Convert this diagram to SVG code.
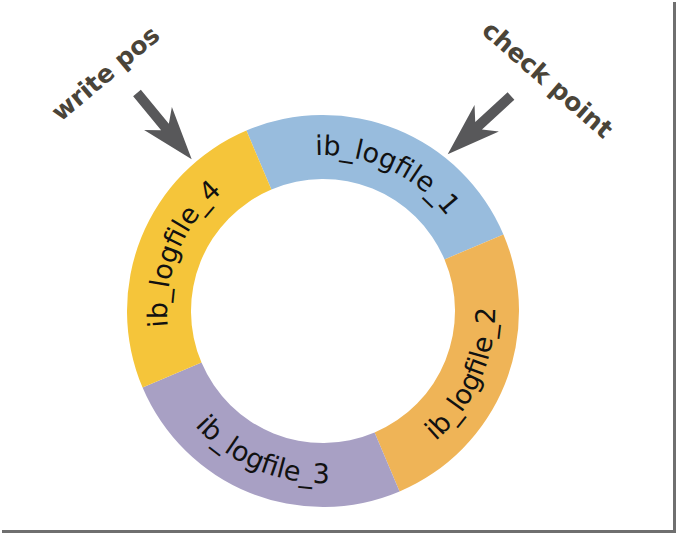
<svg xmlns="http://www.w3.org/2000/svg" width="678" height="535" viewBox="0 0 678 535">
  <defs>
    <style>
      .seg { stroke: none; }
      .lbl { font-family: "DejaVu Sans", "Liberation Sans", sans-serif; font-size: 27px; fill: #111111; }
      .note { font-family: "DejaVu Sans", "Liberation Sans", sans-serif; font-size: 25px; font-weight: bold; fill: #4a4438; }
      .arrow { fill: #58585a; }
    </style>
    <path id="p1" d="M 233.52 183.21 A 156 156 0 0 1 478.41 297.40"/>
    <path id="p4" d="M 200.07 407.04 A 156 156 0 0 1 301.29 156.52"/>
    <path id="p2" d="M 340.98 482.06 A 172 172 0 0 0 462.15 209.90"/>
    <path id="p3" d="M 152.28 331.96 A 172 172 0 0 0 426.51 448.37"/>
    <polygon id="arr" points="0,-5 44,-5 33,-18 86,0 33,18 44,5 0,5"/>
  </defs>
  <rect width="678" height="535" fill="#ffffff"/>
  <rect x="673" y="2" width="3" height="530" fill="#6f6f6f"/>
  <rect x="2" y="530" width="674" height="3" fill="#6f6f6f"/>

  <g id="ib_logfile_1">
    <path class="seg" fill="#98bcdd" d="M 246.42 130.58 A 196 196 0 0 1 503.42 234.42 L 444.51 259.42 A 132 132 0 0 0 271.42 189.49 Z"/>
    <text class="lbl"><textPath href="#p1" startOffset="50%" text-anchor="middle">ib_logfile_1</textPath></text>
  </g>
  <g id="ib_logfile_2">
    <path class="seg" fill="#efb457" d="M 503.42 234.42 A 196 196 0 0 1 399.58 491.42 L 374.58 432.51 A 132 132 0 0 0 444.51 259.42 Z"/>
    <text class="lbl"><textPath href="#p2" startOffset="50%" text-anchor="middle">ib_logfile_2</textPath></text>
  </g>
  <g id="ib_logfile_3">
    <path class="seg" fill="#a8a0c4" d="M 399.58 491.42 A 196 196 0 0 1 142.58 387.58 L 201.49 362.58 A 132 132 0 0 0 374.58 432.51 Z"/>
    <text class="lbl"><textPath href="#p3" startOffset="50%" text-anchor="middle">ib_logfile_3</textPath></text>
  </g>
  <g id="ib_logfile_4">
    <path class="seg" fill="#f5c53a" d="M 142.58 387.58 A 196 196 0 0 1 246.42 130.58 L 271.42 189.49 A 132 132 0 0 0 201.49 362.58 Z"/>
    <text class="lbl"><textPath href="#p4" startOffset="50%" text-anchor="middle">ib_logfile_4</textPath></text>
  </g>

  <g id="write_pos">
    <text class="note" transform="translate(111,80) rotate(-40)" text-anchor="middle">write pos</text>
  </g>
  <g id="check_point">
    <text class="note" transform="translate(542,86) rotate(41)" text-anchor="middle">check point</text>
  </g>

  <g id="connectors">
    <use href="#arr" class="arrow" transform="translate(137,93) rotate(50.5)"/>
    <use href="#arr" class="arrow" transform="translate(511,96) rotate(137.4)"/>
  </g>
</svg>
